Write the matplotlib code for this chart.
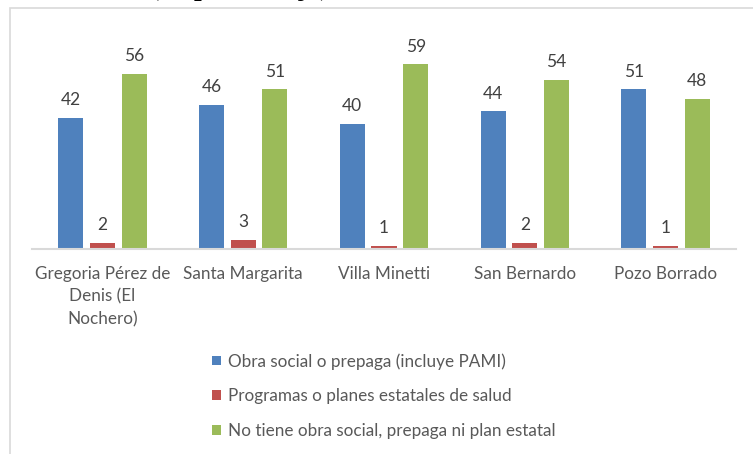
import matplotlib
matplotlib.use("Agg")
import matplotlib.pyplot as plt
import numpy as np
from matplotlib.patches import Rectangle

# values (percent)
localidades = ["Gregoria Pérez de\nDenis (El\nNochero)", "Santa Margarita",
               "Villa Minetti", "San Bernardo", "Pozo Borrado"]
obra_social = [42, 46, 40, 44, 51]
planes_estatales = [2, 3, 1, 2, 1]
sin_cobertura = [56, 51, 59, 54, 48]

series_names = ["Obra social o prepaga (incluye PAMI)",
                "Programas o planes estatales de salud",
                "No tiene obra social, prepaga ni plan estatal"]
colors = ["#4F81BD", "#C0504D", "#9BBB59"]

plt.rcParams["font.family"] = ["Lato", "DejaVu Sans"]

W, H = 753, 454
fig = plt.figure(figsize=(W / 100, H / 100), dpi=100)
fig.patch.set_facecolor("white")

# chart frame (only top and left edges fall inside the crop)
fig.patches.append(Rectangle((9.5 / W, -0.5), 2, (H - 7.5) / H + 0.5,
                             transform=fig.transFigure, fill=False,
                             edgecolor="#d9d9d9", lw=1.2))

# title, mostly cut off by the crop
fig.text(150 / W, 1 + 5.5 / H, "(en porcentaje)", family="Liberation Serif",
         weight="bold", fontsize=20, ha="left", va="baseline", color="black")

ax = fig.add_axes([32 / W, (H - 249) / H, 704 / W, 219 / H])
x = np.arange(len(localidades))
width = 0.178
step = 0.225
for i, (vals, name, c) in enumerate(zip([obra_social, planes_estatales, sin_cobertura],
                                        series_names, colors)):
    bars = ax.bar(x + (i - 1) * step, vals, width, color=c, label=name)
    ax.bar_label(bars, padding=7, fontsize=12.5, color="#404040")

ax.set_xlim(-0.5, len(localidades) - 0.5)
ax.set_ylim(0, 70)
ax.set_yticks([])
for s in ["top", "right", "left"]:
    ax.spines[s].set_visible(False)
ax.spines["bottom"].set_color("#d9d9d9")
ax.spines["bottom"].set_linewidth(1.5)
ax.set_xticks(x, localidades, fontsize=12.3, color="#595959", linespacing=1.5)
ax.tick_params(axis="x", length=0, pad=12)

fig.legend(loc="upper left", bbox_to_anchor=(212 / W, (H - 353) / H),
           frameon=False, fontsize=12.3, labelcolor="#595959",
           handlelength=0.5, handleheight=0.5, handletextpad=0.45,
           labelspacing=1.1, borderpad=0, borderaxespad=0)

fig.savefig("out.png", dpi=100)
